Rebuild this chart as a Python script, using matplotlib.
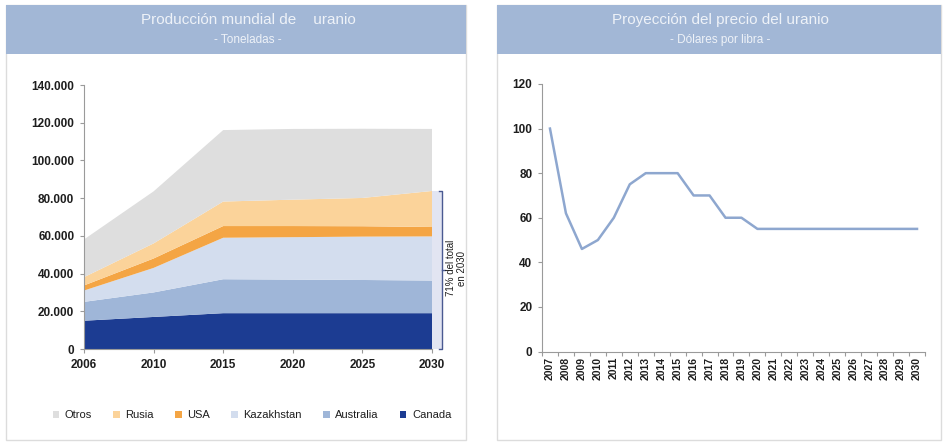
import matplotlib
matplotlib.use("Agg")
import matplotlib.pyplot as plt
from matplotlib.patches import Rectangle
from matplotlib.lines import Line2D
import matplotlib.transforms as mtransforms
import numpy as np

plt.rcParams['font.family'] = ['Liberation Sans', 'DejaVu Sans']

# ---- data: left chart (toneladas) ----
years_prod = ['2006', '2010', '2015', '2020', '2025', '2030']
canada = [15000, 17000, 19000, 19000, 19000, 19000]
australia = [10000, 13000, 18000, 17800, 17600, 17300]
kazakhstan = [6000, 13000, 22000, 22500, 23000, 23400]
usa = [2700, 5000, 6200, 5900, 5500, 5000]
rusia = [4400, 8000, 13000, 14000, 15000, 19100]
otros = [20000, 27600, 37900, 37500, 36700, 32900]
series_names = ['Canada', 'Australia', 'Kazakhstan', 'USA', 'Rusia', 'Otros']
series_colors = ['#1c3c92', '#9fb6d8', '#d3ddee', '#f4a544', '#fbd39a', '#dedede']
y_ticks_prod = [0, 20000, 40000, 60000, 80000, 100000, 120000, 140000]
y_ticklabels_prod = ['0', '20.000', '40.000', '60.000', '80.000', '100.000', '120.000', '140.000']

# ---- data: right chart (dolares por libra) ----
years_price = [str(y) for y in range(2007, 2031)]
price = [100, 62, 46, 50, 60, 75, 80, 80, 80, 70, 70, 60, 60, 55,
         55, 55, 55, 55, 55, 55, 55, 55, 55, 55]
y_ticks_price = [0, 20, 40, 60, 80, 100, 120]

W, H = 945, 445
fig = plt.figure(figsize=(W / 100, H / 100), dpi=100)
fig.patch.set_facecolor('white')

def fx(px):
    return px / W

def fy(py):
    return 1 - py / H

header_col = '#a2b7d6'
border_col = '#dcdcdc'
# panels
for (x0, x1) in [(6, 466), (497, 941)]:
    fig.patches.append(Rectangle((fx(x0), fy(440)), fx(x1 - x0), (440 - 5) / H,
                                 transform=fig.transFigure, facecolor='white',
                                 edgecolor=border_col, lw=1.0, zorder=-2))
    fig.patches.append(Rectangle((fx(x0), fy(54)), fx(x1 - x0), (54 - 5) / H,
                                 transform=fig.transFigure, facecolor=header_col,
                                 edgecolor='none', zorder=-1))

title_col = '#eef2f8'
fig.text(fx(248), fy(20), 'Producción mundial de    uranio', ha='center', va='center',
         fontsize=11, color=title_col)
fig.text(fx(248), fy(40), '- Toneladas -', ha='center', va='center',
         fontsize=8.5, color=title_col)
fig.text(fx(720), fy(20), 'Proyección del precio del uranio', ha='center', va='center',
         fontsize=11, color=title_col)
fig.text(fx(720), fy(40), '- Dólares por libra -', ha='center', va='center',
         fontsize=8.5, color=title_col)

txt_col = '#1e1e1e'
axis_col = '#9a9a9a'

# ---- left chart ----
ax1 = fig.add_axes([fx(84), fy(349), fx(432 - 84), (349 - 85) / H])
x = np.arange(len(years_prod))
stack = np.vstack([canada, australia, kazakhstan, usa, rusia, otros])
ax1.stackplot(x, stack, colors=series_colors, labels=series_names, lw=0)
ax1.set_xlim(0, len(years_prod) - 1)
ax1.set_ylim(0, 140000)
ax1.set_xticks(x)
ax1.set_xticklabels(years_prod, fontsize=8.5, fontweight='bold', color=txt_col)
ax1.set_yticks(y_ticks_prod)
ax1.set_yticklabels(y_ticklabels_prod, fontsize=8.5, fontweight='bold', color=txt_col)
for s in ['top', 'right']:
    ax1.spines[s].set_visible(False)
for s in ['left', 'bottom']:
    ax1.spines[s].set_color(axis_col)
    ax1.spines[s].set_linewidth(0.8)
ax1.tick_params(axis='both', color=axis_col, length=3, width=0.8, pad=4)
ax1.set_facecolor('none')

# bracket for 71%
top_val = float(np.sum(stack[:5, -1]))
off = mtransforms.offset_copy(ax1.transData, fig=fig, x=10, y=0, units='dots')
ax1.fill_between([x[-1], x[-1] + 0.14], [0, 0], [top_val, top_val], color='#e2e5f2',
                 lw=0, clip_on=False, zorder=0.5)
br_col = '#4a5a92'
ax1.add_line(Line2D([x[-1] - 0.05, x[-1], x[-1], x[-1] - 0.05],
                    [top_val, top_val, 0, 0], transform=off, color=br_col, lw=1.0,
                    clip_on=False))
ax1.add_line(Line2D([x[-1], x[-1] + 0.05], [top_val / 2, top_val / 2], transform=off,
                    color=br_col, lw=1.0, clip_on=False))
fig.text(fx(451), fy(268), '71% del total', rotation=90, ha='center', va='center',
         fontsize=7, color=txt_col)
fig.text(fx(462), fy(268), 'en 2030', rotation=90, ha='center', va='center',
         fontsize=7, color=txt_col)

# legend (reverse order: Otros first)
handles, labels = ax1.get_legend_handles_labels()
leg = fig.legend(handles[::-1], labels[::-1], loc='center', bbox_to_anchor=(fx(252), fy(415)),
                 ncol=6, frameon=False, fontsize=8, handlelength=0.6, handleheight=0.6,
                 handletextpad=0.5, columnspacing=1.9)
for t in leg.get_texts():
    t.set_color(txt_col)

# ---- right chart ----
ax2 = fig.add_axes([fx(542), fy(351.5), fx(925 - 542), (351.5 - 84) / H])
xp = np.arange(len(years_price))
ax2.plot(xp, price, color='#8ea7cf', lw=1.8)
ax2.set_xlim(-0.5, len(years_price) - 0.5)
ax2.set_ylim(0, 120)
ax2.set_xticks(xp)
ax2.set_xticklabels(years_price, rotation=90, fontsize=7.5, fontweight='bold', color=txt_col)
ax2.set_xticks(np.arange(len(years_price) + 1) - 0.5, minor=True)
ax2.set_yticks(y_ticks_price)
ax2.set_yticklabels([str(v) for v in y_ticks_price], fontsize=8.5, fontweight='bold',
                    color=txt_col)
ax2.tick_params(axis='x', which='major', length=0, pad=4)
ax2.tick_params(axis='x', which='minor', length=3, color=axis_col, width=0.8)
ax2.tick_params(axis='y', length=3, color=axis_col, width=0.8, pad=4)
for s in ['top', 'right']:
    ax2.spines[s].set_visible(False)
for s in ['left', 'bottom']:
    ax2.spines[s].set_color(axis_col)
    ax2.spines[s].set_linewidth(0.8)
ax2.set_facecolor('none')

fig.savefig('out.png', dpi=100)
